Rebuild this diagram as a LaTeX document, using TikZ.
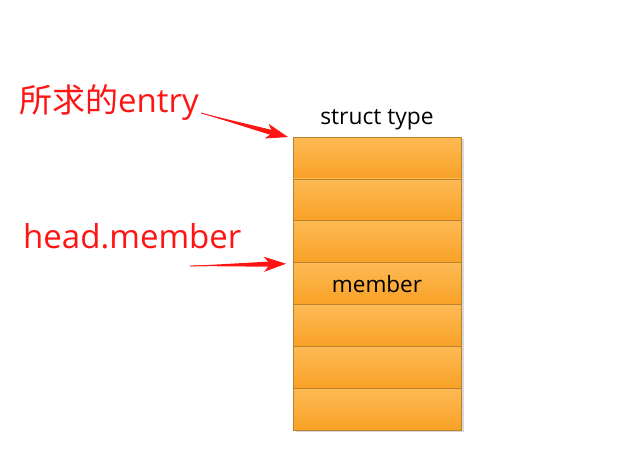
\documentclass[tikz,border=0pt]{standalone}
\usepackage{fontspec}
\setmainfont{Open Sans}
\newfontfamily\cjk{Noto Sans CJK SC}
\usepackage{tikz}
\usetikzlibrary{arrows.meta,calc,positioning,shadows}
\definecolor{fieldtop}{HTML}{FDBA55}
\definecolor{fieldbot}{HTML}{F9A126}
\definecolor{fieldline}{HTML}{B9802E}
\definecolor{notered}{HTML}{FF1414}

\begin{document}
\begin{tikzpicture}[
  x=1pt, y=1pt,
  node distance=0pt,
  field/.style={draw=fieldline, line width=0.9pt, outer sep=0pt, minimum width=168pt, minimum height=41.9pt,
    top color=fieldtop, bottom color=fieldbot, font=\fontsize{22.5}{24}\selectfont,
    drop shadow={shadow xshift=2.5pt, shadow yshift=-1.5pt, opacity=0.3}},
  note/.style={text=notered, inner sep=0pt, anchor=base west, font=\fontsize{33}{36}\selectfont},
  pointer/.style={-{Stealth[length=22pt, width=15pt, inset=6pt]}, draw=notered, fill=notered, line width=0.8pt},
  taper/.style={fill=notered}
]
  \useasboundingbox (0,0) rectangle (638,459);

  % the struct, one field per box
  \node[field] (f1) at (377,301) {};
  \node[field, below=of f1] (f2) {};
  \node[field, below=of f2] (f3) {};
  \node[field, below=of f3] (f4) {member};
  \node[field, below=of f4] (f5) {};
  \node[field, below=of f5] (f6) {};
  \node[field, below=of f6] (f7) {};

  \node[above=4pt of f1, font=\fontsize{22.8}{24}\selectfont] (title) {struct type};

  % red notes
  \node[note] (entry) at (19,346) {{\cjk 所求的}entry};
  \node[note] (head) at (23,211) {head.member};

  \coordinate (entrytail) at (201,346);
  \coordinate (entrytip) at ([xshift=-5pt, yshift=0pt]f1.north west);
  \coordinate (entrybase) at ($(entrytip)!16pt!(entrytail)$);
  \coordinate (headtail) at (190,193);
  \coordinate (headtip) at ([xshift=-7pt, yshift=-1pt]f4.north west);
  \coordinate (headbase) at ($(headtip)!16pt!(headtail)$);

  % tapered shafts
  \fill[taper] (entrytail) -- ($(entrybase)!2.6pt!90:(entrytail)$) -- ($(entrybase)!2.6pt!-90:(entrytail)$) -- cycle;
  \fill[taper] (headtail) -- ($(headbase)!2.6pt!90:(headtail)$) -- ($(headbase)!2.6pt!-90:(headtail)$) -- cycle;

  \draw[pointer] (entrytail) -- (entrytip);
  \draw[pointer] (headtail) -- (headtip);
\end{tikzpicture}
\end{document}
